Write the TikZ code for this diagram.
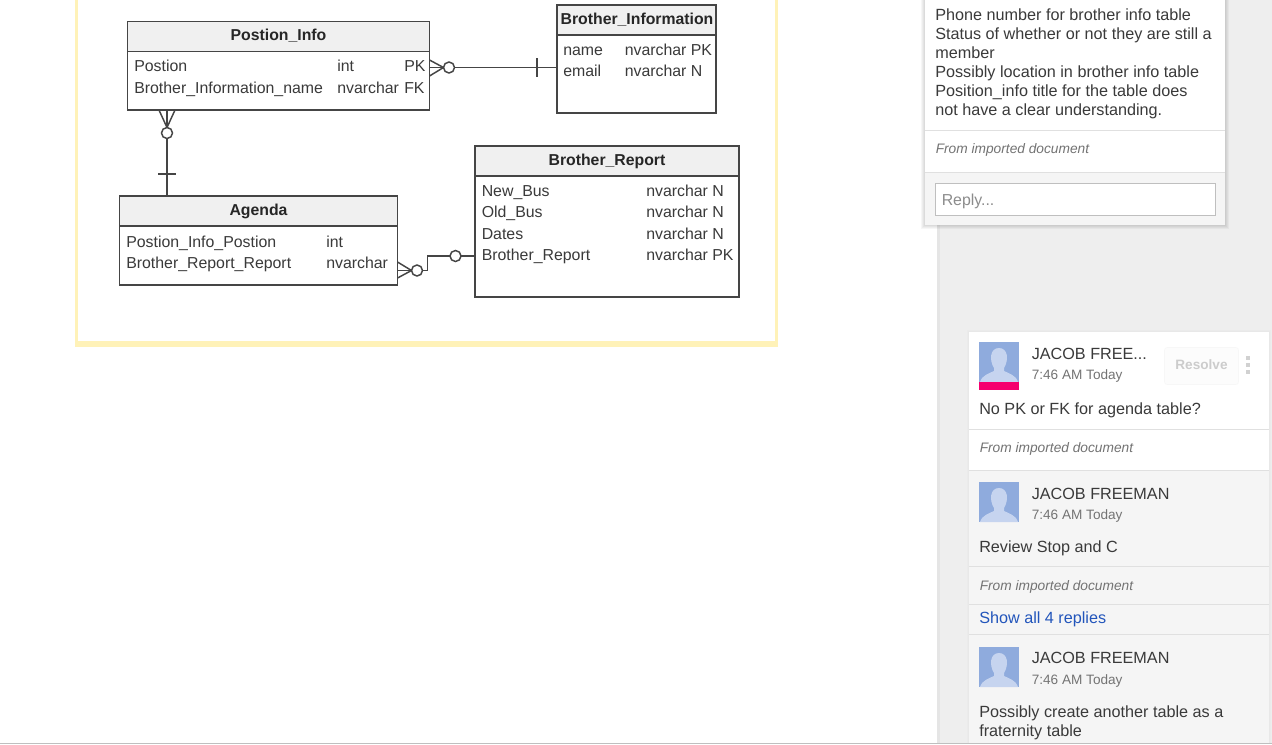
\documentclass[tikz,border=0pt]{standalone}
\usepackage{fontspec}
\setmainfont{Liberation Sans}
\definecolor{framey}{HTML}{FFF2B8}
\definecolor{panelg}{HTML}{EEEEEE}
\definecolor{cardg}{HTML}{F5F5F5}
\definecolor{lineg}{HTML}{E0E0E0}
\definecolor{tableln}{HTML}{454545}
\definecolor{headg}{HTML}{F0F0F0}
\definecolor{textd}{HTML}{3A3A3A}
\definecolor{avblue}{HTML}{8FABDD}
\definecolor{avlight}{HTML}{C6D4EF}
\definecolor{linkblue}{HTML}{2255BB}
\definecolor{avpink}{HTML}{F5006E}
\def\px{0.75pt}
\tikzset{
    head/.style ={
        rectangle,
        draw=tableln,
        fill=headg,
        line width=1pt,
        inner sep=0pt,
        outer sep=0pt,
        anchor=north west
    },
    body/.style ={
        rectangle,
        draw=tableln,
        fill=white,
        line width=1pt,
        inner sep=0pt,
        outer sep=0pt,
        anchor=north west
    },
    title/.style ={
        inner sep=0pt,
        anchor=base,
        text=black!85,
        font=\fontsize{11.85}{14}\selectfont\bfseries
    },
    cell/.style ={
        inner sep=0pt,
        anchor=base west,
        text=textd,
        font=\fontsize{11.9}{14}\selectfont
    },
    note/.style ={
        inner sep=0pt,
        anchor=base west,
        text=textd,
        font=\fontsize{12.15}{14}\selectfont
    },
    stamp/.style ={
        inner sep=0pt,
        anchor=base west,
        text=black!55,
        font=\fontsize{10.2}{12}\selectfont
    },
    source/.style ={
        inner sep=0pt,
        anchor=base west,
        text=black!55,
        font=\fontsize{10.3}{12}\selectfont\itshape
    },
    ring/.style ={
        circle,
        draw=tableln,
        fill=white,
        line width=1.1pt,
        minimum size=11*\px,
        inner sep=0pt,
        outer sep=0pt
    },
    link/.style ={
        draw=tableln,
        line width=1.1pt
    },
    card/.style ={
        rectangle,
        inner sep=0pt,
        outer sep=0pt,
        anchor=north west,
        fill=white
    },
    rule/.style ={
        draw=lineg,
        line width=0.6pt
    },
    avatar/.pic ={
        \fill[avblue] (0,0) rectangle (40,40);
        \fill[avlight] (1,40) .. controls (3,33) and (11,31) .. (15,29)
            -- (15,26) .. controls (10,18) and (11,6) .. (20,6)
            .. controls (29,6) and (30,18) .. (25,26)
            -- (25,29) .. controls (29,31) and (37,33) .. (39,40) -- cycle;
    }
}

\begin{document}
\begin{tikzpicture}[x=\px,y=-\px]
    \useasboundingbox (0,0) rectangle (1272,744);
    \fill[white] (0,0) rectangle (1272,744);

    % yellow page frame
    \fill[framey] (75,-5) rectangle (78,347);
    \fill[framey] (775,-5) rectangle (778,347);
    \fill[framey] (75,340.5) rectangle (778,347);

    % tables
    \node[body,minimum width=302*\px,minimum height=59*\px] (PIbody) at (127.5,51) {};
    \node[head,minimum width=302*\px,minimum height=30*\px] (PIhead) at (127.5,21.5) {};
    \node[body,minimum width=159*\px,minimum height=78*\px] (BIbody) at (557,35) {};
    \node[head,minimum width=159*\px,minimum height=30*\px] (BIhead) at (557,5) {};
    \node[body,minimum width=278*\px,minimum height=59*\px] (AGbody) at (119.5,226) {};
    \node[head,minimum width=278*\px,minimum height=30*\px] (AGhead) at (119.5,196) {};
    \node[body,minimum width=264*\px,minimum height=121*\px] (BRbody) at (475,176) {};
    \node[head,minimum width=264*\px,minimum height=30*\px] (BRhead) at (475,146) {};

    \node[title] (PItitle) at (278.5,40.5) {Postion\_Info};
    \node[title] (BItitle) at (637,24) {Brother\_Information};
    \node[title] (AGtitle) at (258.5,215) {Agenda};
    \node[title] (BRtitle) at (607,165.5) {Brother\_Report};

    \node[cell] (PIa) at (134,71.5) {Postion};
    \node[cell] (PIb) at (337,71.5) {int};
    \node[cell] (PIc) at (404,71.5) {PK};
    \node[cell] (PId) at (134,93) {Brother\_Information\_name};
    \node[cell] (PIe) at (337,93) {nvarchar};
    \node[cell] (PIf) at (404,93) {FK};

    \node[cell] (BIa) at (563,55) {name};
    \node[cell] (BIb) at (624.5,55) {nvarchar PK};
    \node[cell] (BIc) at (563,76.5) {email};
    \node[cell] (BId) at (624.5,76.5) {nvarchar N};

    \node[cell] (AGa) at (126,247) {Postion\_Info\_Postion};
    \node[cell] (AGb) at (326,247) {int};
    \node[cell] (AGc) at (126,268.5) {Brother\_Report\_Report};
    \node[cell] (AGd) at (326,268.5) {nvarchar};

    \node[cell] (BRa) at (481.5,196) {New\_Bus};
    \node[cell] (BRb) at (646,196) {nvarchar N};
    \node[cell] (BRc) at (481.5,217.5) {Old\_Bus};
    \node[cell] (BRd) at (646,217.5) {nvarchar N};
    \node[cell] (BRe) at (481.5,239) {Dates};
    \node[cell] (BRf) at (646,239) {nvarchar N};
    \node[cell] (BRg) at (481.5,260.5) {Brother\_Report};
    \node[cell] (BRh) at (646,260.5) {nvarchar PK};

    % connectors
    \coordinate (PIfootA) at (429.5,60);
    \coordinate (PIfootB) at (429.5,76);
    \coordinate (PIfootC) at (159,110);
    \coordinate (PIfootD) at (175,110);
    \coordinate (AGfootA) at (397.5,262);
    \coordinate (AGfootB) at (397.5,278);
    \coordinate (AGbend) at (427.5,270.5);
    \coordinate (BIbarA) at (537,58);
    \coordinate (BIbarB) at (537,77);
    \coordinate (AGbarA) at (158,174);
    \coordinate (AGbarB) at (176,174);
    \node[ring] (PIright) at (449,67.5) {};
    \node[ring] (PIdown) at (167,133) {};
    \node[ring] (AGright) at (417,270.5) {};
    \node[ring] (BRleft) at (455.5,256) {};

    \draw[link] (PIright) -- (PIright -| BIbody.west);
    \draw[link] (PIright) -- (PIright -| PIbody.east);
    \draw[link] (PIfootA) -- (PIright.west);
    \draw[link] (PIfootB) -- (PIright.west);
    \draw[link] (BIbarA) -- (BIbarB);
    \draw[link] (PIdown) -- (PIdown |- AGhead.north);
    \draw[link] (PIdown) -- (PIdown |- PIbody.south);
    \draw[link] (PIfootC) -- (PIdown.north);
    \draw[link] (PIfootD) -- (PIdown.north);
    \draw[link] (AGbarA) -- (AGbarB);
    \draw[link] (AGright) -- (AGright -| AGbody.east);
    \draw[link] (AGfootA) -- (AGright.west);
    \draw[link] (AGfootB) -- (AGright.west);
    \draw[link] (AGright) -- (AGbend) |- (BRleft);
    \draw[link] (BRleft) -- (BRleft -| BRbody.west);

    % side panel
    \fill[panelg] (937,0) rectangle (1272,744);
    \fill[black!10] (937,0) rectangle (939.5,744);

    % top comment card
    \foreach \grow in {1,...,4}
        \fill[black,opacity=0.035] (925-\grow,0) rectangle (1225+\grow,225+\grow);
    \node[card,fill=cardg,minimum width=300*\px,minimum height=225*\px] (cardA) at (925,0) {};
    \node[card,minimum width=300*\px,minimum height=172*\px] (cardAtop) at (925,0) {};
    \draw[rule] (925,130.5) -- (1225,130.5);
    \draw[rule] (925,172.5) -- (1225,172.5);
    \node[note] (noteA) at (935,20.5) {Phone number for brother info table};
    \node[note] (noteB) at (935,39.5) {Status of whether or not they are still a};
    \node[note] (noteC) at (935,58.5) {member};
    \node[note] (noteD) at (935,77.5) {Possibly location in brother info table};
    \node[note] (noteE) at (935,96.5) {Position\_info title for the table does};
    \node[note] (noteF) at (935,115.5) {not have a clear understanding.};
    \node[source] (srcA) at (935.5,153) {From imported document};
    \node[card,draw=black!25,line width=0.7pt,minimum width=280*\px,minimum height=32*\px] (replybox) at (935,183) {};
    \node[cell,text=black!45] (replytext) at (941.5,205.5) {Reply...};

    % lower comment card
    \foreach \grow in {1,2}
        \fill[black,opacity=0.012] (969-\grow,332-\grow) rectangle (1269+\grow,744);
    \node[card,fill=cardg,minimum width=300*\px,minimum height=411*\px] (cardB) at (969,332) {};
    \node[card,minimum width=300*\px,minimum height=138*\px] (cardBtop) at (969,332) {};
    \foreach \ypos in {429.5,470.5,566.5,604.5,634.5}
        \draw[rule] (969,\ypos) -- (1269,\ypos);

    \pic at (979,342) {avatar};
    \fill[avpink] (979,382) rectangle (1019,390);
    \pic at (979,482) {avatar};
    \pic at (979,647) {avatar};

    \node[note] (nameA) at (1031.5,359.5) {JACOB FREE...};
    \node[stamp] (timeA) at (1031.5,379) {7:46 AM Today};
    \node[card,fill=black!1,draw=black!3,rounded corners=2pt,minimum width=74*\px,minimum height=37*\px] (resolvebox) at (1164.5,347.5) {};
    \node[stamp,text=black!20,font=\fontsize{10.2}{12}\selectfont\bfseries,anchor=base] (resolve) at (1201.5,369) {Resolve};
    \foreach \ypos in {358,365,372}
        \fill[black!18] (1246,\ypos-2) rectangle (1250,\ypos+2);
    \node[note] (bodyA) at (979,414.5) {No PK or FK for agenda table?};
    \node[source] (srcB) at (979.5,452) {From imported document};

    \node[note] (nameB) at (1031.5,499.5) {JACOB FREEMAN};
    \node[stamp] (timeB) at (1031.5,519) {7:46 AM Today};
    \node[note] (bodyB) at (979,552) {Review Stop and C};
    \node[source] (srcC) at (979.5,590) {From imported document};
    \node[note,text=linkblue] (showall) at (979,623.5) {Show all 4 replies};

    \node[note] (nameC) at (1031.5,663.5) {JACOB FREEMAN};
    \node[stamp] (timeC) at (1031.5,684) {7:46 AM Today};
    \node[note] (bodyC) at (979,717) {Possibly create another table as a};
    \node[note] (bodyD) at (979,736) {fraternity table};

    \draw[black!25,line width=0.75pt] (0,743.5) -- (1272,743.5);
\end{tikzpicture}
\end{document}
